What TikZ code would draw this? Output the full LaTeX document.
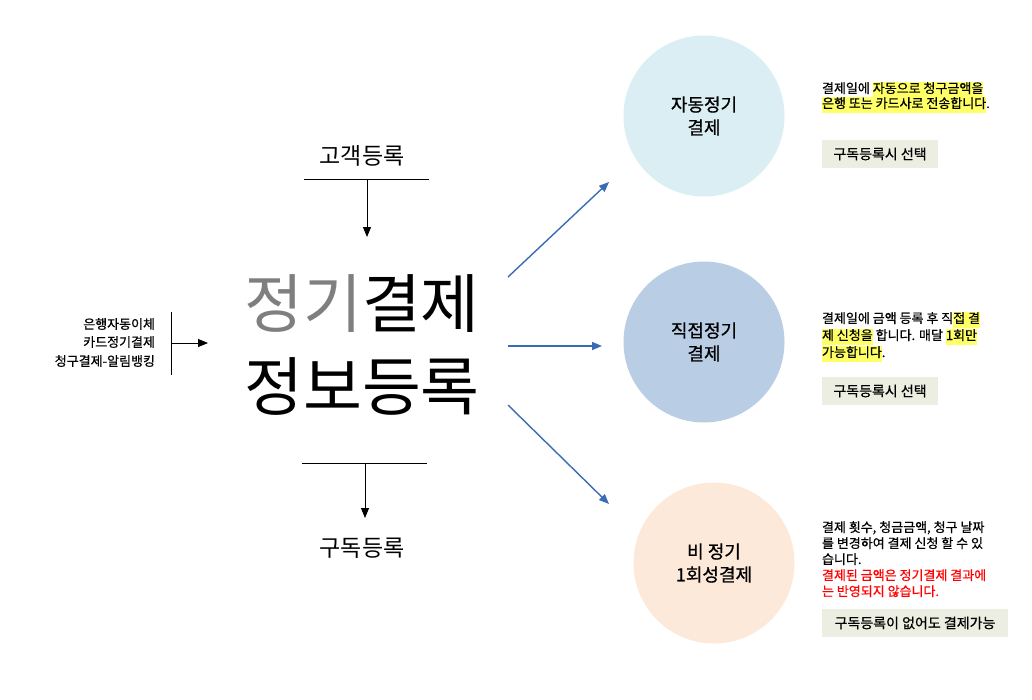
\documentclass[tikz,border=0pt]{standalone}
\usepackage{fontspec}
\setmainfont{Noto Sans CJK KR}
\newfontfamily\medfont[FakeBold=0.7]{Noto Sans CJK KR}
\usetikzlibrary{arrows.meta}
\definecolor{cafill}{HTML}{DAEEF3}
\definecolor{cbfill}{HTML}{B9CDE5}
\definecolor{ccfill}{HTML}{FDE9D9}
\definecolor{tagfill}{HTML}{EBEEE0}
\definecolor{hly}{HTML}{FFFF66}
\definecolor{arrowblue}{HTML}{3A6CB5}
\definecolor{maingray}{HTML}{7F7F7F}
\definecolor{redtxt}{HTML}{FF0000}
\newcommand{\hlt}[1]{{\setlength{\fboxsep}{0pt}\colorbox{hly}{\strut #1}}}
\begin{document}
\begin{tikzpicture}[x=1pt,y=-1pt,
  every node/.style={inner sep=0pt, outer sep=0pt},
  bigcirc/.style={circle, minimum size=161pt, align=center, font=\medfont\fontsize{18}{23}\selectfont},
  maintext/.style={font=\fontsize{64}{82}\selectfont},
  sidetext/.style={font=\fontsize{23}{28}\selectfont},
  lefttext/.style={font=\medfont\fontsize{13}{18}\selectfont, anchor=east},
  paraline/.style={font=\medfont\fontsize{13}{16}\selectfont, anchor=base west},
  tagbox/.style={fill=tagfill, minimum height=28pt, anchor=north west, font=\medfont\fontsize{14}{16}\selectfont},
  blackarrow/.style={draw=black, line width=0.9pt, -{Triangle[length=10pt,width=8pt]}},
  bluearrow/.style={draw=arrowblue, line width=1.4pt, -{Triangle[length=10pt,width=8pt]}},
  barline/.style={draw=black, line width=0.9pt}
]
\path[use as bounding box] (0,0) rectangle (1032,699);

% central title
\node[maintext] (main1) at (362,304) {\textcolor{maingray}{정기}결제};
\node[maintext] (main2) at (362,386) {정보등록};

% top input
\node[sidetext] (gogaek) at (362,156) {고객등록};
\coordinate (topL) at (304,179);
\coordinate (topR) at (429,179);
\coordinate (topS) at (367,179);
\coordinate (topE) at (367,237);
\draw[barline] (topL) -- (topR);
\draw[blackarrow] (topS) -- (topE);

% bottom output
\node[sidetext] (gudok) at (362,548) {구독등록};
\coordinate (botL) at (302,463);
\coordinate (botR) at (427,463);
\coordinate (botS) at (365,463);
\coordinate (botE) at (365,518);
\draw[barline] (botL) -- (botR);
\draw[blackarrow] (botS) -- (botE);

% left input
\node[lefttext] (l1) at (155,324) {은행자동이체};
\node[lefttext] (l2) at (155,342) {카드정기결제};
\node[lefttext] (l3) at (155,361) {청구결제-알림뱅킹};
\coordinate (leftT) at (171,312);
\coordinate (leftB) at (171,375);
\coordinate (leftS) at (171,343);
\coordinate (leftE) at (208,343);
\draw[barline] (leftT) -- (leftB);
\draw[blackarrow] (leftS) -- (leftE);

% circles
\node[bigcirc, fill=cafill] (ca) at (704,116) {자동정기\\결제};
\node[bigcirc, fill=cbfill] (cb) at (704,342) {직접정기\\결제};
\node[bigcirc, fill=ccfill] (cc) at (714,563) {비 정기\\1회성결제};

% blue arrows
\coordinate (s1) at (508,277);
\coordinate (e1) at (609,182);
\coordinate (s2) at (508,346);
\coordinate (e2) at (602,346);
\coordinate (s3) at (508,405);
\coordinate (e3) at (609,504);
\draw[bluearrow] (s1) -- (e1);
\draw[bluearrow] (s2) -- (e2);
\draw[bluearrow] (s3) -- (e3);

% block 1
\node[paraline] (p1a) at (822,93) {결제일에 \hlt{자동으로 청구금액을}};
\node[paraline] (p1b) at (822,108) {\hlt{은행 또는 카드사로 전송합니다}.};
\node[tagbox, minimum width=116pt] (t1) at (822,140) {구독등록시 선택};

% block 2
\node[paraline] (p2a) at (822,323) {결제일에 금액 등록 후 직\hlt{접 결}};
\node[paraline] (p2b) at (822,340) {\hlt{제 신청을} 합니다. 매달 \hlt{1회만}};
\node[paraline] (p2c) at (822,357) {\hlt{가능합니다}.};
\node[tagbox, minimum width=116pt] (t2) at (822,377) {구독등록시 선택};

% block 3
\node[paraline] (p3a) at (822,532) {결제 횟수, 청금금액, 청구 날짜};
\node[paraline] (p3b) at (822,548) {를 변경하여 결제 신청 할 수 있};
\node[paraline] (p3c) at (822,564) {습니다.};
\node[paraline, text=redtxt] (p3d) at (822,580) {결제된 금액은 정기결제 결과에};
\node[paraline, text=redtxt] (p3e) at (822,596) {는 반영되지 않습니다.};
\node[tagbox, minimum width=186pt] (t3) at (822,609) {구독등록이 없어도 결제가능};
\end{tikzpicture}
\end{document}
